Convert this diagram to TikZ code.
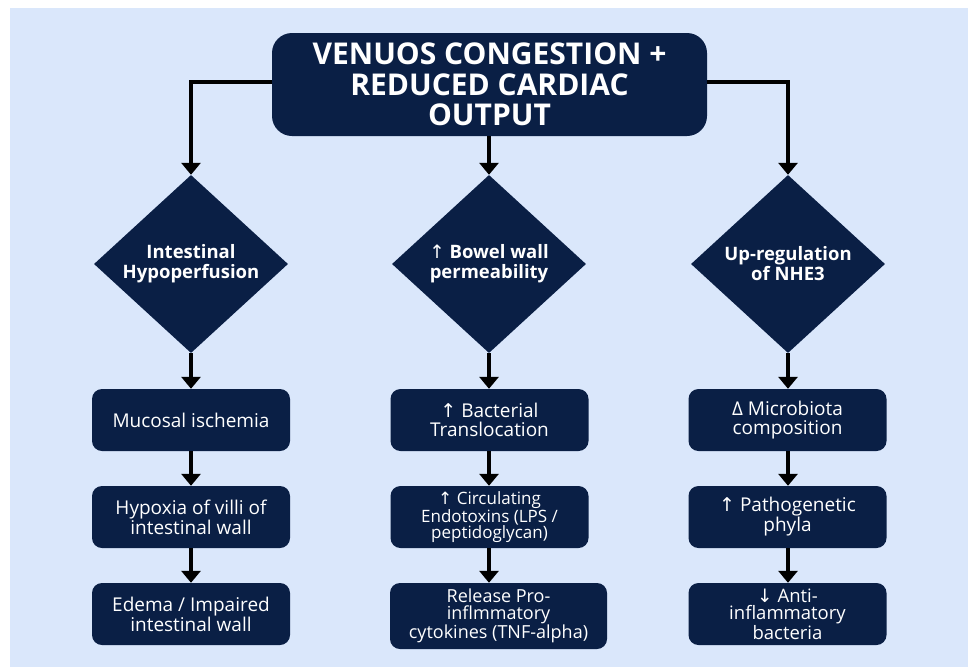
\documentclass[tikz,border=0pt]{standalone}
\usepackage{fontspec}
\setmainfont{Open Sans}
\newfontfamily\symf{DejaVu Sans}
\usetikzlibrary{shapes.geometric,arrows.meta}
\definecolor{bgblue}{HTML}{DAE7FB}
\definecolor{navy}{HTML}{0A1F45}
\tikzset{
  arr/.style={line width=4pt,-{Triangle[width=19pt,length=12pt]}},
  titlebox/.style={fill=navy,rounded corners=20pt,text=white,font=\bfseries\fontsize{30}{30.5}\selectfont,align=center,minimum width=435pt,minimum height=103pt,inner sep=0pt},
  dia/.style={diamond,fill=navy,text=white,font=\bfseries\fontsize{18.5}{20}\selectfont,align=center,minimum width=194pt,minimum height=178pt,inner sep=0pt,aspect=1.09},
  box/.style={fill=navy,rounded corners=10pt,text=white,font=\fontsize{19}{18.5}\selectfont,align=center,minimum width=198pt,minimum height=62pt,inner sep=0pt},
}
\begin{document}
\begin{tikzpicture}[x=1pt,y=-1pt]
\useasboundingbox (0,0) rectangle (968,667);
\fill[white] (0,0) rectangle (968,667);
\fill[bgblue] (10,8) rectangle (968,667);

\node[titlebox] (top) at (489.5,84.5) {VENUOS CONGESTION +\\REDUCED CARDIAC\\OUTPUT};

\node[dia] (d1) at (191,264) {Intestinal\\Hypoperfusion};
\node[dia] (d2) at (489,264) {{\symf\mdseries ↑} Bowel wall\\permeability};
\node[dia] (d3) at (788,264) {Up-regulation\\of NHE3};

\node[box] (a1) at (191,420) {Mucosal ischemia};
\node[box] (a2) at (191,517) {Hypoxia of villi of\\intestinal wall};
\node[box] (a3) at (191,614) {Edema / Impaired\\intestinal wall};

\node[box] (b1) at (489.5,420) {{\symf ↑} Bacterial\\Translocation};
\node[box,font=\fontsize{17}{16.5}\selectfont] (b2) at (489.5,517) {{\symf ↑} Circulating\\Endotoxins (LPS /\\peptidoglycan)};
\node[box,minimum width=217pt,minimum height=66pt,font=\fontsize{18}{17.5}\selectfont] (b3) at (498.5,616) {Release Pro-\\inflmmatory\\cytokines (TNF-alpha)};

\node[box] (c1) at (787.5,420) {Δ Microbiota\\composition};
\node[box] (c2) at (787.5,517) {{\symf ↑} Pathogenetic\\phyla};
\node[box,font=\fontsize{18.5}{17.5}\selectfont] (c3) at (787.5,614) {{\symf ↓} Anti-\\inflammatory\\bacteria};

\draw[arr] ([yshift=2.5pt]top.west) -| (d1.north);
\draw[arr] ([yshift=2.5pt]top.east) -| (d3.north);
\draw[arr] (top.south -| d2.north) -- (d2.north);

\draw[arr] (d1.south) -- (a1.north);
\draw[arr] (a1.south) -- (a2.north);
\draw[arr] (a2.south) -- (a3.north);

\draw[arr] (d2.south) -- (d2.south |- b1.north);
\draw[arr] (d2.south |- b1.south) -- (d2.south |- b2.north);
\draw[arr] (d2.south |- b2.south) -- (d2.south |- b3.north);

\draw[arr] (d3.south) -- (d3.south |- c1.north);
\draw[arr] (d3.south |- c1.south) -- (d3.south |- c2.north);
\draw[arr] (d3.south |- c2.south) -- (d3.south |- c3.north);
\end{tikzpicture}
\end{document}
